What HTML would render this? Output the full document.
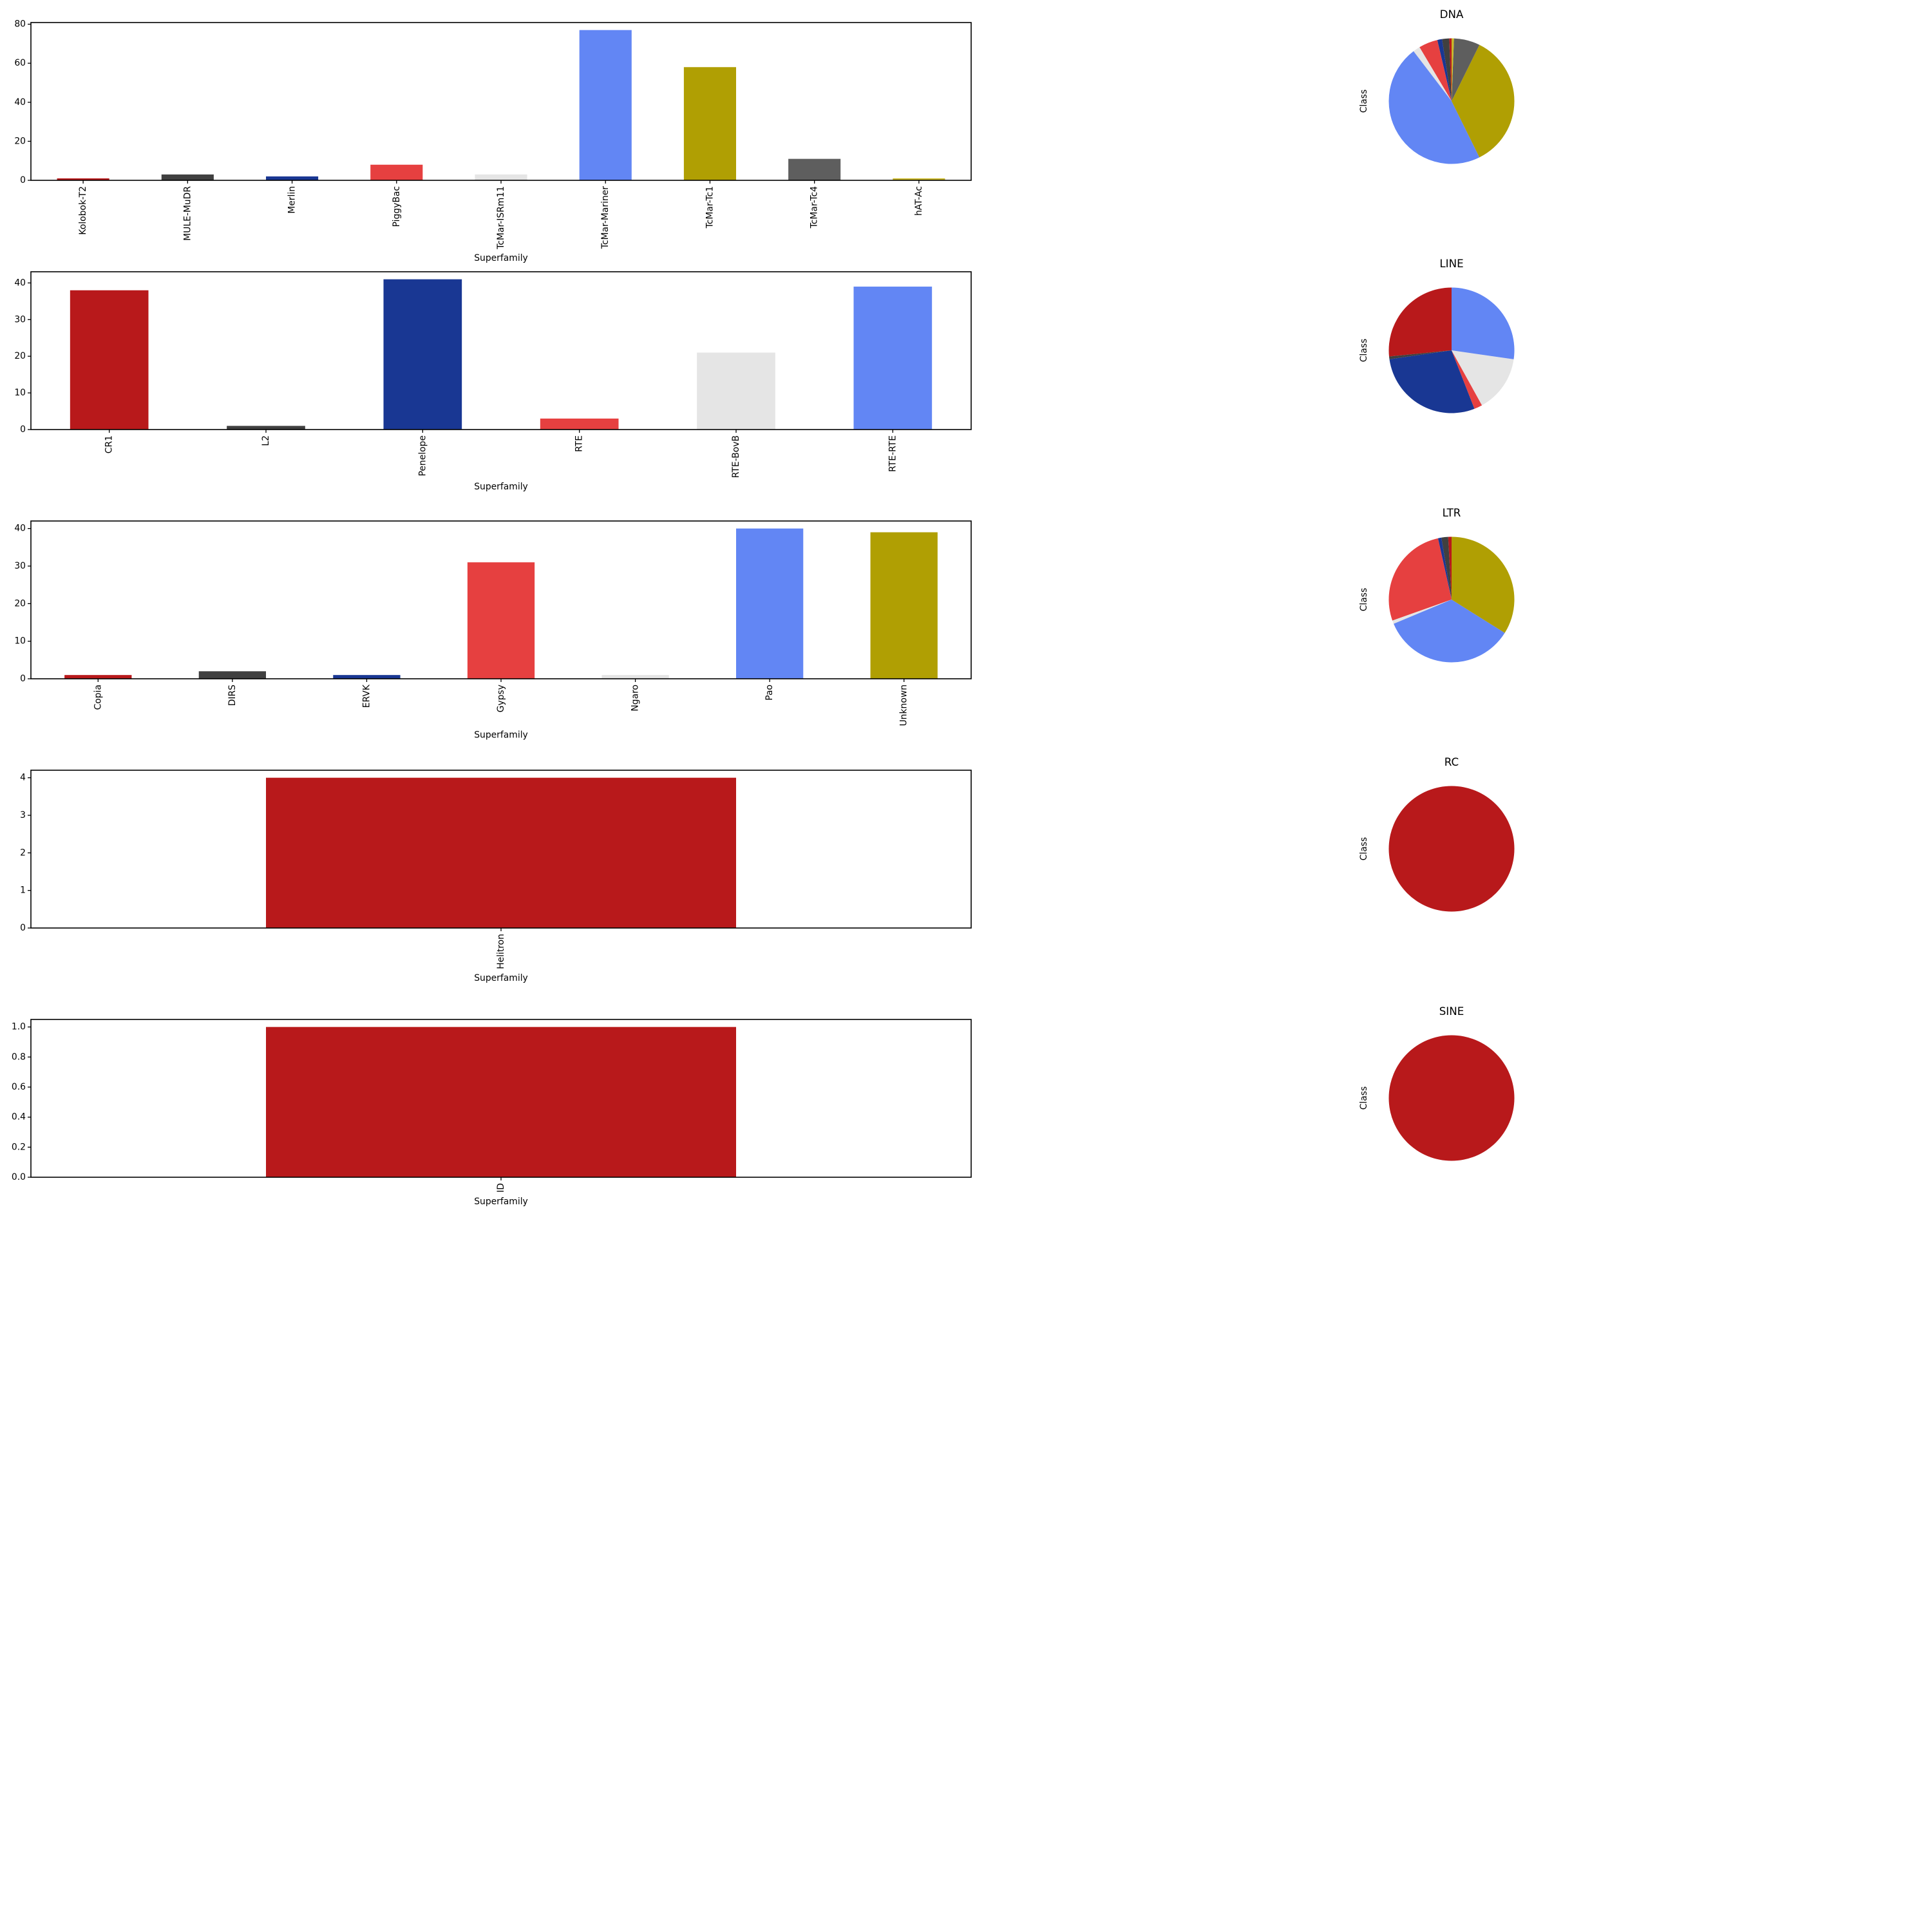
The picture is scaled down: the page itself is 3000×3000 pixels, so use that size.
<!DOCTYPE html>
<html><head><meta charset="utf-8">
<style>
html,body{margin:0;padding:0;background:#fff;}
svg{display:block;font-family:"DejaVu Sans","Liberation Sans",sans-serif;}
</style></head>
<body>
<svg id="chart" width="3000" height="3000" viewBox="0 0 3000 3000" xmlns="http://www.w3.org/2000/svg"></svg>
<script>
const colors = ["#b8191b","#404040","#193793","#e64040","#e5e5e5","#6286f4","#b09f03","#5e5e5e","#c9b729"];
const classNames = ["DNA","LINE","LTR","RC","SINE"];
const dnaCats = ["Kolobok-T2","MULE-MuDR","Merlin","PiggyBac","TcMar-ISRm11","TcMar-Mariner","TcMar-Tc1","TcMar-Tc4","hAT-Ac"];
const dnaVals = [1,3,2,8,3,77,58,11,1];
const lineCats = ["CR1","L2","Penelope","RTE","RTE-BovB","RTE-RTE"];
const lineVals = [38,1,41,3,21,39];
const ltrCats = ["Copia","DIRS","ERVK","Gypsy","Ngaro","Pao","Unknown"];
const ltrVals = [1,2,1,31,1,40,39];
const rcCats = ["Helitron"];
const rcVals = [4];
const sineCats = ["ID"];
const sineVals = [1];
const dnaTicks = [0,20,40,60,80];
const lineTicks = [0,10,20,30,40];
const ltrTicks = [0,10,20,30,40];
const rcTicks = [0,1,2,3,4];
const sineTicks = ["0.0","0.2","0.4","0.6","0.8","1.0"];

const panels = [
 {cats:dnaCats, vals:dnaVals, ticks:dnaTicks},
 {cats:lineCats, vals:lineVals, ticks:lineTicks},
 {cats:ltrCats, vals:ltrVals, ticks:ltrTicks},
 {cats:rcCats, vals:rcVals, ticks:rcTicks},
 {cats:sineCats, vals:sineVals, ticks:sineTicks}
];
const NS="http://www.w3.org/2000/svg";
const svg=document.getElementById('chart');
function mk(tag, attrs, parent){const e=document.createElementNS(NS,tag);for(const k in attrs)e.setAttribute(k,attrs[k]);(parent||svg).appendChild(e);return e;}
const L=48,R=1508,H=245,T0=35,STEP=387;
const PCX=2254,PCY0=157,PR=97.5;
const FS=13.9;
panels.forEach((p,i)=>{
  const top=T0+STEP*i, bot=top+H;
  const g=mk('g',{});
  
  
  const n=p.cats.length;
  const ymax=Math.max(...p.vals)*1.05;
  const xs=c=>L+(c+0.5)/n*(R-L);
  const ys=v=>bot-v/ymax*H;
  const bw=0.5/n*(R-L);
  p.vals.forEach((v,c)=>{
    const r=mk('rect',{x:xs(c)-bw/2,y:ys(v),width:bw,height:bot-ys(v),fill:colors[c%colors.length]},g);
    
    
  });
  const fr=mk('rect',{x:L,y:top,width:R-L,height:H,fill:'none',stroke:'#000','stroke-width':1.6},g);
  
  
  p.ticks.forEach(t=>{
    const y=ys(parseFloat(t));
    mk('line',{x1:L-5,x2:L,y1:y,y2:y,stroke:'#000','stroke-width':1.3},g);
    const tx=mk('text',{x:L-8,y:y,'text-anchor':'end','dominant-baseline':'central','font-size':FS},g);
    tx.textContent=t;
    
    
  });
  let maxLen=0;
  p.cats.forEach((c,ci)=>{
    const x=xs(ci);
    mk('line',{x1:x,x2:x,y1:bot,y2:bot+5,stroke:'#000','stroke-width':1.3},g);
    const tx=mk('text',{transform:`translate(${x},${bot+9}) rotate(-90)`,'text-anchor':'end','dominant-baseline':'central','font-size':FS},g);
    tx.textContent=c;
    
    
    maxLen=Math.max(maxLen,tx.getComputedTextLength());
  });
  const xl=mk('text',{x:(L+R)/2,y:bot+9+maxLen+14,'text-anchor':'middle','dominant-baseline':'central','font-size':FS},g);
  xl.textContent='Superfamily';
  
  

  const pg=mk('g',{});
  
  
  const cy=PCY0+STEP*i;
  const tt=mk('text',{x:PCX,y:cy-135,'text-anchor':'middle','dominant-baseline':'central','font-size':16.7},pg);
  tt.textContent=classNames[i];
  
  
  const cl=mk('text',{transform:`translate(2118,${cy}) rotate(-90)`,'text-anchor':'middle','dominant-baseline':'central','font-size':FS},pg);
  cl.textContent='Class';
  
  
  const tot=p.vals.reduce((a,b)=>a+b,0);
  let a=90;
  p.vals.forEach((v,ci)=>{
    const sweep=v/tot*360;
    let el;
    if(sweep>=359.999){
      el=mk('circle',{cx:PCX,cy:cy,r:PR,fill:colors[ci%colors.length]},pg);
    } else {
      const a1=a*Math.PI/180,a2=(a+sweep)*Math.PI/180;
      const x1=PCX+PR*Math.cos(a1),y1=cy-PR*Math.sin(a1);
      const x2=PCX+PR*Math.cos(a2),y2=cy-PR*Math.sin(a2);
      const large=sweep>180?1:0;
      el=mk('path',{d:`M${PCX},${cy}L${x1},${y1}A${PR},${PR} 0 ${large} 0 ${x2},${y2}Z`,fill:colors[ci%colors.length]},pg);
    }
    
    
    a+=sweep;
  });
});
</script>
</body></html>
